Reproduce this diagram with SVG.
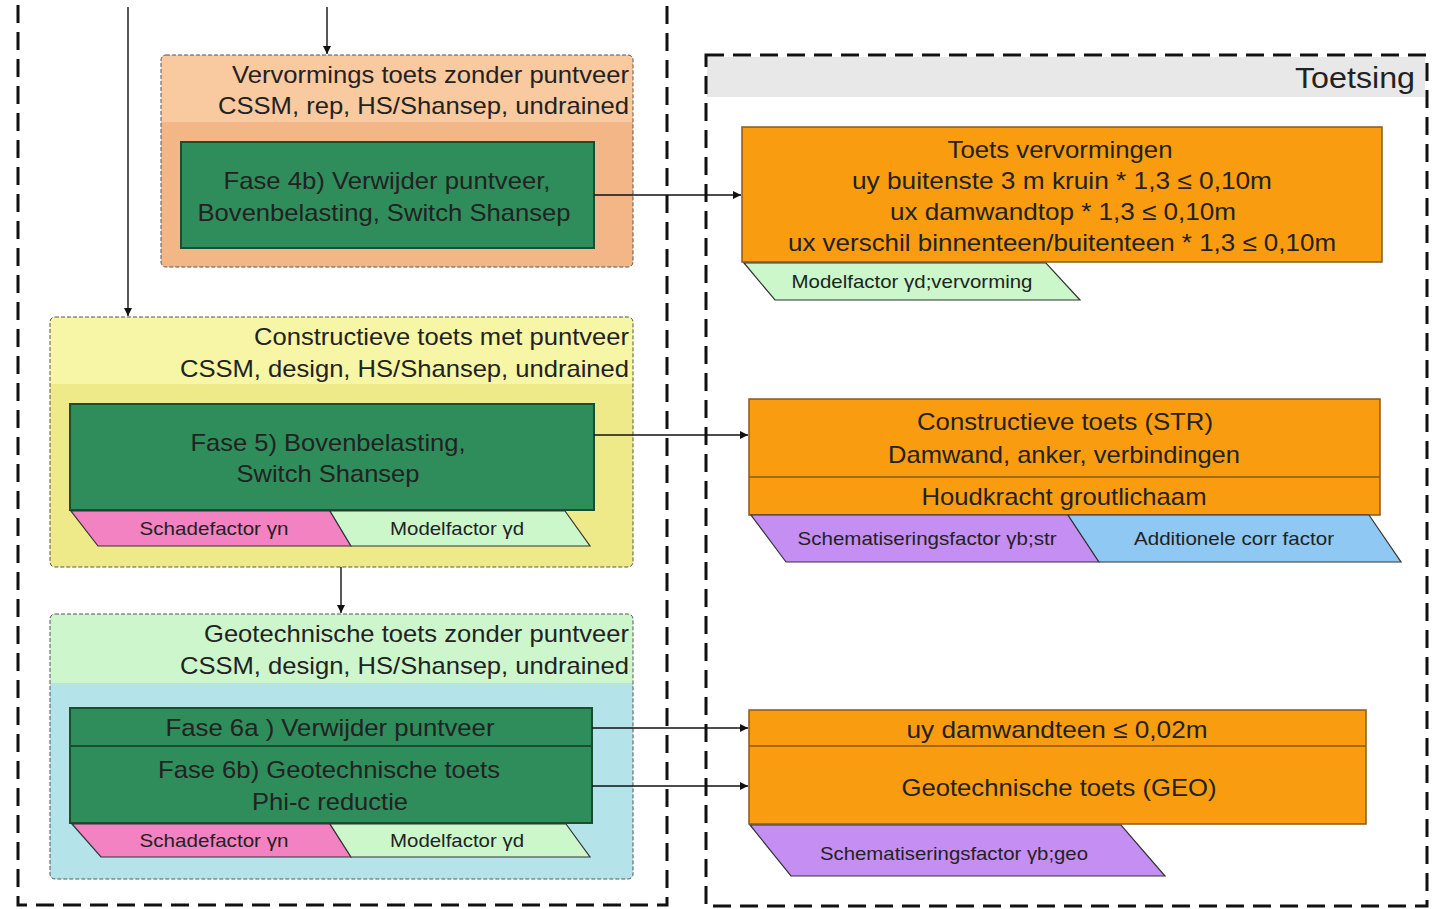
<svg xmlns="http://www.w3.org/2000/svg" width="1436" height="909" viewBox="0 0 1436 909">
<style>
text{font-family:"Liberation Sans",Arial,sans-serif;fill:#222}
.hdr{font-size:24px;text-anchor:end}
.bx{font-size:24px;text-anchor:middle}
.sm{font-size:19px;text-anchor:middle}
.grp{stroke:#555;stroke-width:1;stroke-dasharray:4 2}
.cont{fill:none;stroke:#111;stroke-width:3;stroke-dasharray:18 9}
.green{fill:#2f8d5b;stroke:#1b4d30;stroke-width:2}
.org{fill:#f99c10;stroke:#8a5a1a;stroke-width:1.5}
.par{stroke:#333;stroke-width:1.2}
.ln{stroke:#111;stroke-width:1.4;fill:none}
</style>
<defs>
<marker id="ah" viewBox="0 0 10 10" refX="10" refY="5" markerWidth="8" markerHeight="8" markerUnits="userSpaceOnUse" orient="auto"><path d="M0,0 L10,5 L0,10 z" fill="#111"/></marker>
</defs>
<rect width="1436" height="909" fill="#fff"/>
<g id="left-container"><rect class="cont" x="18" y="-20" width="649" height="925"/></g>
<g id="right-container">
<rect x="707" y="57" width="718" height="40" fill="#e8e8e8"/>
<rect class="cont" x="706" y="55" width="721" height="851"/>
<text x="1415" y="88" style="font-size:29px;text-anchor:end" textLength="120" lengthAdjust="spacingAndGlyphs">Toetsing</text>
</g>
<g id="group-vervorming">
<rect x="161" y="55" width="472" height="212" rx="5" fill="#f2b687"/>
<path d="M166,55 H628 A5,5 0 0 1 633,60 V122 H161 V60 A5,5 0 0 1 166,55 Z" fill="#f9c9a0"/>
<rect class="grp" x="161" y="55" width="472" height="212" rx="5" fill="none"/>
<text class="hdr" x="629" y="83" textLength="397" lengthAdjust="spacingAndGlyphs">Vervormings toets zonder puntveer</text>
<text class="hdr" x="629" y="114" textLength="411" lengthAdjust="spacingAndGlyphs">CSSM, rep, HS/Shansep, undrained</text>
</g>
<g id="fase4b">
<rect class="green" x="181" y="142" width="413" height="106"/>
<text class="bx" x="387" y="189" textLength="327" lengthAdjust="spacingAndGlyphs">Fase 4b) Verwijder puntveer,</text>
<text class="bx" x="384" y="221" textLength="373" lengthAdjust="spacingAndGlyphs">Bovenbelasting, Switch Shansep</text>
</g>
<g id="group-constructief">
<rect x="50" y="317" width="583" height="250" rx="5" fill="#eeea8a"/>
<path d="M55,317 H628 A5,5 0 0 1 633,322 V384 H50 V322 A5,5 0 0 1 55,317 Z" fill="#f7f5a6"/>
<rect class="grp" x="50" y="317" width="583" height="250" rx="5" fill="none"/>
<text class="hdr" x="629" y="345" textLength="375" lengthAdjust="spacingAndGlyphs">Constructieve toets met puntveer</text>
<text class="hdr" x="629" y="377" textLength="449" lengthAdjust="spacingAndGlyphs">CSSM, design, HS/Shansep, undrained</text>
</g>
<g id="fase5">
<rect class="green" x="70" y="404" width="524" height="106"/>
<text class="bx" x="328" y="451" textLength="275" lengthAdjust="spacingAndGlyphs">Fase 5) Bovenbelasting,</text>
<text class="bx" x="328" y="482" textLength="183" lengthAdjust="spacingAndGlyphs">Switch Shansep</text>
</g>
<g id="schade5">
<polygon class="par" points="71,511 330,511 351,546 98,546" fill="#f282c2"/>
<text class="sm" x="214" y="535" textLength="149" lengthAdjust="spacingAndGlyphs">Schadefactor γn</text>
</g>
<g id="model5">
<polygon class="par" points="330,511 565,511 590,546 351,546" fill="#cbf7cb"/>
<text class="sm" x="457" y="535" textLength="134" lengthAdjust="spacingAndGlyphs">Modelfactor γd</text>
</g>
<g id="group-geotech">
<rect x="50" y="614" width="583" height="265" rx="5" fill="#b4e3ea"/>
<path d="M55,614 H628 A5,5 0 0 1 633,619 V683 H50 V619 A5,5 0 0 1 55,614 Z" fill="#cdf6cd"/>
<rect class="grp" x="50" y="614" width="583" height="265" rx="5" fill="none"/>
<text class="hdr" x="629" y="642" textLength="425" lengthAdjust="spacingAndGlyphs">Geotechnische toets zonder puntveer</text>
<text class="hdr" x="629" y="674" textLength="449" lengthAdjust="spacingAndGlyphs">CSSM, design, HS/Shansep, undrained</text>
</g>
<g id="fase6">
<rect class="green" x="70" y="708" width="522" height="115"/>
<line x1="70" y1="746" x2="592" y2="746" stroke="#1b4d30" stroke-width="2"/>
<text class="bx" x="330" y="736" textLength="329" lengthAdjust="spacingAndGlyphs">Fase 6a ) Verwijder puntveer</text>
<text class="bx" x="329" y="778" textLength="342" lengthAdjust="spacingAndGlyphs">Fase 6b) Geotechnische toets</text>
<text class="bx" x="330" y="810" textLength="156" lengthAdjust="spacingAndGlyphs">Phi-c reductie</text>
</g>
<g id="schade6">
<polygon class="par" points="72,824 330,824 351,857 101,857" fill="#f282c2"/>
<text class="sm" x="214" y="847" textLength="149" lengthAdjust="spacingAndGlyphs">Schadefactor γn</text>
</g>
<g id="model6">
<polygon class="par" points="330,824 566,824 590,857 351,857" fill="#cbf7cb"/>
<text class="sm" x="457" y="847" textLength="134" lengthAdjust="spacingAndGlyphs">Modelfactor γd</text>
</g>
<g id="toets-vervormingen">
<rect class="org" x="742" y="127" width="640" height="135"/>
<text class="bx" x="1060" y="158" textLength="225" lengthAdjust="spacingAndGlyphs">Toets vervormingen</text>
<text class="bx" x="1062" y="189" textLength="420" lengthAdjust="spacingAndGlyphs">uy buitenste 3 m kruin * 1,3 ≤ 0,10m</text>
<text class="bx" x="1063" y="220" textLength="346" lengthAdjust="spacingAndGlyphs">ux damwandtop * 1,3 ≤ 0,10m</text>
<text class="bx" x="1062" y="251" textLength="548" lengthAdjust="spacingAndGlyphs">ux verschil binnenteen/buitenteen * 1,3 ≤ 0,10m</text>
</g>
<g id="model-vervorming">
<polygon class="par" points="744,263 1046,263 1080,300 775,300" fill="#cbf7cb"/>
<text class="sm" x="912" y="288" textLength="241" lengthAdjust="spacingAndGlyphs">Modelfactor γd;vervorming</text>
</g>
<g id="str">
<rect class="org" x="749" y="399" width="631" height="116"/>
<line x1="749" y1="477" x2="1380" y2="477" stroke="#8a5a1a" stroke-width="1.5"/>
<text class="bx" x="1065" y="430" textLength="296" lengthAdjust="spacingAndGlyphs">Constructieve toets (STR)</text>
<text class="bx" x="1064" y="463" textLength="352" lengthAdjust="spacingAndGlyphs">Damwand, anker, verbindingen</text>
<text class="bx" x="1064" y="505" textLength="285" lengthAdjust="spacingAndGlyphs">Houdkracht groutlichaam</text>
</g>
<g id="schem-str">
<polygon class="par" points="751,515 1068,515 1099,562 786,562" fill="#c58ef2"/>
<text class="sm" x="927" y="545" textLength="259" lengthAdjust="spacingAndGlyphs">Schematiseringsfactor γb;str</text>
</g>
<g id="additionele">
<polygon class="par" points="1068,515 1369,515 1401,562 1099,562" fill="#8fc8f2"/>
<text class="sm" x="1234" y="545" textLength="200" lengthAdjust="spacingAndGlyphs">Additionele corr factor</text>
</g>
<g id="geo">
<rect class="org" x="749" y="710" width="617" height="114"/>
<line x1="749" y1="746" x2="1366" y2="746" stroke="#8a5a1a" stroke-width="1.5"/>
<text class="bx" x="1057" y="738" textLength="301" lengthAdjust="spacingAndGlyphs">uy damwandteen ≤ 0,02m</text>
<text class="bx" x="1059" y="796" textLength="315" lengthAdjust="spacingAndGlyphs">Geotechnische toets (GEO)</text>
</g>
<g id="schem-geo">
<polygon class="par" points="750,825 1121,825 1165,876 791,876" fill="#c58ef2"/>
<text class="sm" x="954" y="860" textLength="268" lengthAdjust="spacingAndGlyphs">Schematiseringsfactor γb;geo</text>
</g>
<g id="connectors">
<line class="ln" x1="128" y1="7" x2="128" y2="316" marker-end="url(#ah)"/>
<line class="ln" x1="327" y1="7" x2="327" y2="54" marker-end="url(#ah)"/>
<line class="ln" x1="341" y1="567" x2="341" y2="613" marker-end="url(#ah)"/>
<line class="ln" x1="594" y1="195" x2="741" y2="195" marker-end="url(#ah)"/>
<line class="ln" x1="594" y1="435" x2="748" y2="435" marker-end="url(#ah)"/>
<line class="ln" x1="592" y1="728" x2="748" y2="728" marker-end="url(#ah)"/>
<line class="ln" x1="592" y1="786" x2="748" y2="786" marker-end="url(#ah)"/>
</g>
</svg>
